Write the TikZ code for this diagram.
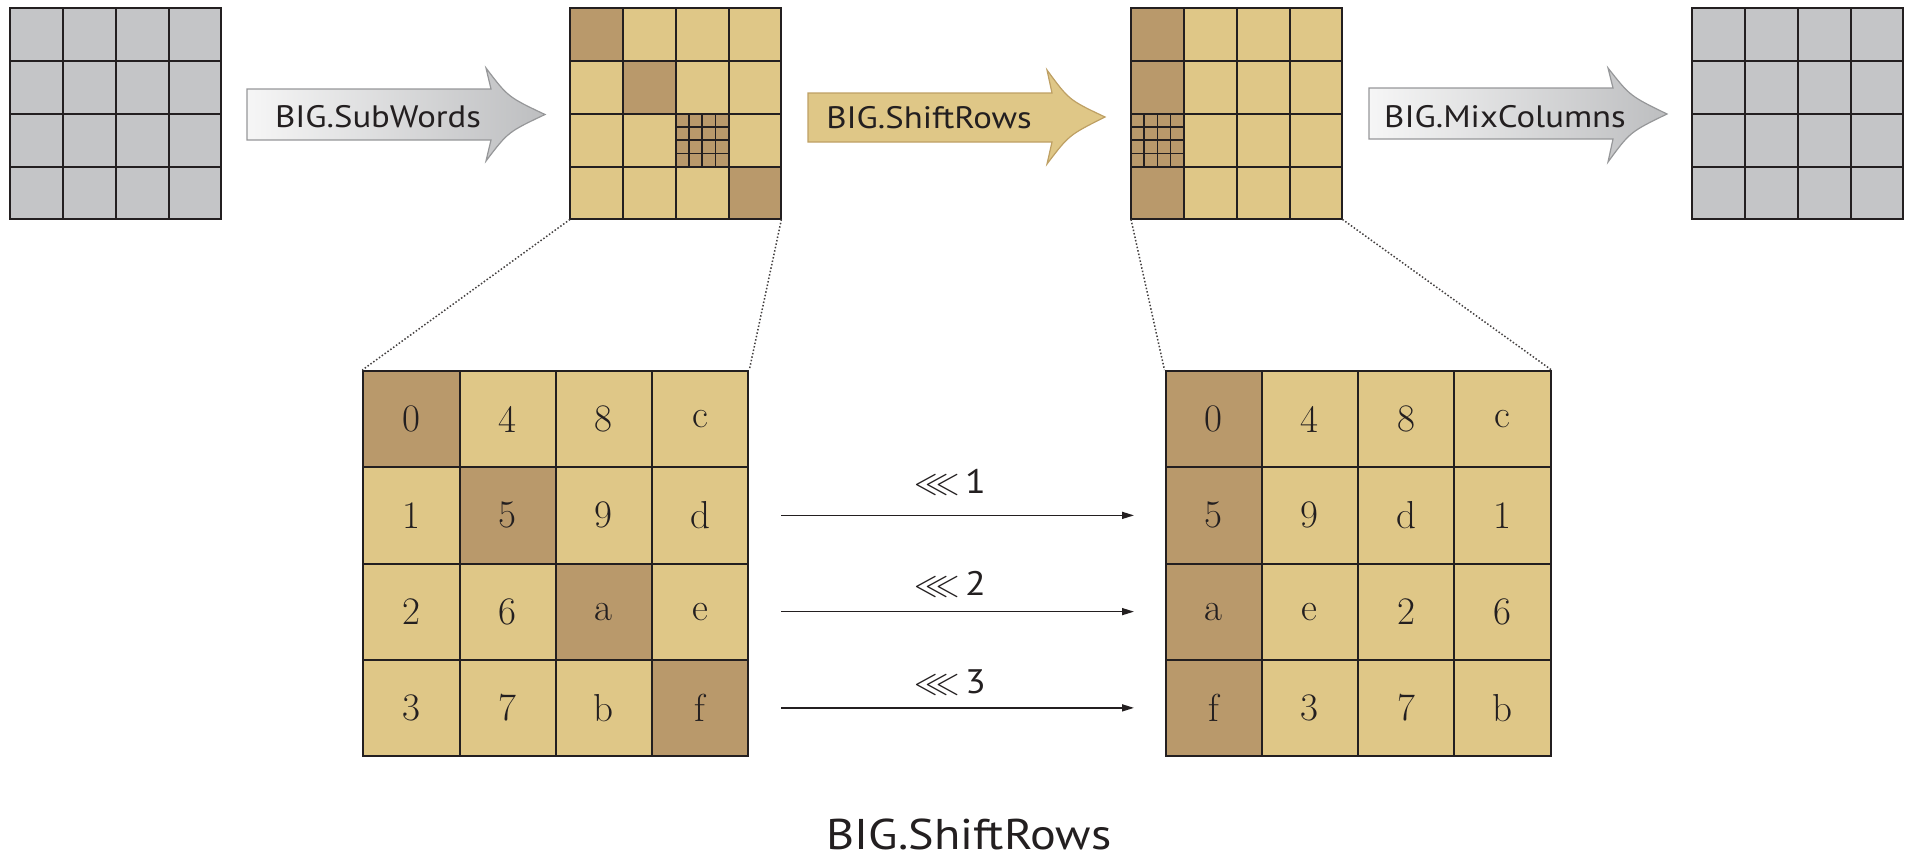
\documentclass[tikz,border=0pt]{standalone}
\usepackage{fontspec}
\usepackage{amssymb}
\setsansfont{PT Sans}[FakeStretch=1.12]
\usetikzlibrary{arrows.meta}

\definecolor{cellgrey}{RGB}{196,197,199}
\definecolor{tanlight}{RGB}{223,199,135}
\definecolor{tandark}{RGB}{185,153,107}
\definecolor{tanedge}{RGB}{190,160,100}
\definecolor{arrowgrey}{RGB}{189,190,192}
\definecolor{gradlight}{RGB}{246,246,246}
\definecolor{arrowedge}{RGB}{150,151,153}
\definecolor{ink}{RGB}{35,31,32}

\tikzset{
  gridline/.style={line width=2pt, draw=ink, line cap=rect},
  subline/.style={line width=1.5pt, draw=ink},
  bigcell/.style={draw=ink, line width=2pt, minimum width=96.25pt,
    minimum height=96.25pt, inner sep=0pt, text=ink,
    font=\fontsize{39}{39}\selectfont},
  zoomline/.style={dotted, line width=1.5pt, draw=ink!85},
  shiftarrow/.style={line width=1.5pt, draw=ink,
    -{Triangle[length=12pt,width=7pt]}},
  blocklabel/.style={anchor=base, text=ink, inner sep=0pt,
    font=\sffamily\fontsize{31}{31}\selectfont},
  rotlabel/.style={anchor=base, text=ink, inner sep=0pt,
    font=\sffamily\fontsize{34}{34}\selectfont},
}

% side of one cell of the small 4x4 states
\def\tc{52.85}

% grid lines of a small 4x4 state whose left edge is at #1
\newcommand{\stategridlines}[1]{%
  \foreach \k in {0,...,4}{
    \draw[gridline] ({#1+\k*\tc},8) -- ({#1+\k*\tc},{8+4*\tc});
    \draw[gridline] (#1,{8+\k*\tc}) -- ({#1+4*\tc},{8+\k*\tc});
  }}

% 4x4 byte grid inside cell (#2,#3) of the state at #1
\newcommand{\bytegrid}[3]{%
  \fill[tandark] ({#1+#3*\tc},{8+#2*\tc}) rectangle ++(\tc,\tc);
  \foreach \k in {1,2,3}{
    \draw[subline] ({#1+#3*\tc+\k*\tc/4},{8+#2*\tc}) -- ++(0,\tc);
    \draw[subline] ({#1+#3*\tc},{8+#2*\tc+\k*\tc/4}) -- ++(\tc,0);
  }}

\begin{document}
\begin{tikzpicture}[x=1pt,y=-1pt]
\useasboundingbox (0,0) rectangle (1911,860);

% ---------- top row: the four states ----------
% input state
\fill[cellgrey] (10,8) rectangle ++({4*\tc},{4*\tc});
\stategridlines{10}

% state after SubWords: diagonal highlighted
\fill[tanlight] (570,8) rectangle ++({4*\tc},{4*\tc});
\foreach \d in {0,1,3}{
  \fill[tandark] ({570+\d*\tc},{8+\d*\tc}) rectangle ++(\tc,\tc);
}
\bytegrid{570}{2}{2}
\stategridlines{570}

% state after ShiftRows: first column highlighted
\fill[tanlight] (1131,8) rectangle ++({4*\tc},{4*\tc});
\fill[tandark] (1131,8) rectangle ++(\tc,{4*\tc});
\bytegrid{1131}{2}{0}
\stategridlines{1131}

% output state
\fill[cellgrey] (1692,8) rectangle ++({4*\tc},{4*\tc});
\stategridlines{1692}

\coordinate (s2-bl) at (570,{8+4*\tc});
\coordinate (s2-br) at ({570+4*\tc},{8+4*\tc});
\coordinate (s3-bl) at (1131,{8+4*\tc});
\coordinate (s3-br) at ({1131+4*\tc},{8+4*\tc});

% ---------- block arrows ----------
\shade[left color=gradlight, right color=arrowgrey, draw=arrowedge, line width=1.2pt]
  (247,89) -- (491,89) -- (486,68)
  .. controls (508,97) .. (545,114.5)
  .. controls (508,132) .. (486,161) -- (491,140) -- (247,140) -- cycle;
\node[blocklabel] (subwords) at (378,127) {BIG.SubWords};

\filldraw[fill=tanlight, draw=tanedge, line width=1.2pt]
  (808,93) -- (1052,93) -- (1047,70)
  .. controls (1069,100) .. (1105,117)
  .. controls (1069,135) .. (1047,164) -- (1052,142) -- (808,142) -- cycle;
\node[blocklabel] (shiftrows) at (929,128) {BIG.ShiftRows};

\shade[left color=gradlight, right color=arrowgrey, draw=arrowedge, line width=1.2pt]
  (1369,88) -- (1613,88) -- (1608,68)
  .. controls (1630,96) .. (1667,114)
  .. controls (1630,132) .. (1608,162) -- (1613,139) -- (1369,139) -- cycle;
\node[blocklabel] (mixcolumns) at (1505,127) {BIG.MixColumns};

% ---------- enlarged states ----------
\foreach \r/\c/\t in {0/0/0,0/1/4,0/2/8,0/3/c,
                      1/0/1,1/1/5,1/2/9,1/3/d,
                      2/0/2,2/1/6,2/2/a,2/3/e,
                      3/0/3,3/1/7,3/2/b,3/3/f}{
  \ifnum\r=\c \def\cf{tandark}\else\def\cf{tanlight}\fi
  \node[bigcell, fill=\cf] (L-\r-\c) at ({363.3+(\c+0.5)*96.25},{371+(\r+0.5)*96.25}) {\t};
}
\foreach \r/\c/\t in {0/0/0,0/1/4,0/2/8,0/3/c,
                      1/0/5,1/1/9,1/2/d,1/3/1,
                      2/0/a,2/1/e,2/2/2,2/3/6,
                      3/0/f,3/1/3,3/2/7,3/3/b}{
  \ifnum\c=0 \def\cf{tandark}\else\def\cf{tanlight}\fi
  \node[bigcell, fill=\cf] (R-\r-\c) at ({1165.5+(\c+0.5)*96.25},{371+(\r+0.5)*96.25}) {\t};
}

% zoom guides
\draw[zoomline] (s2-bl) -- (L-0-0.north west);
\draw[zoomline] (s2-br) -- (L-0-3.north east);
\draw[zoomline] (s3-bl) -- (R-0-0.north west);
\draw[zoomline] (s3-br) -- (R-0-3.north east);

% row rotations
\draw[shiftarrow, shorten <=31.7pt, shorten >=30.5pt] (L-1-3.east) -- (R-1-0.west)
  node[rotlabel, midway, xshift=-7pt, yshift=21.4pt] (rot1) {$\lll$\,1};
\draw[shiftarrow, shorten <=31.7pt, shorten >=30.5pt] (L-2-3.east) -- (R-2-0.west)
  node[rotlabel, midway, xshift=-7pt, yshift=16.6pt] (rot2) {$\lll$\,2};
\draw[shiftarrow, shorten <=31.7pt, shorten >=30.5pt] (L-3-3.east) -- (R-3-0.west)
  node[rotlabel, midway, xshift=-7pt, yshift=14.6pt] (rot3) {$\lll$\,3};

% caption
\node[anchor=base, text=ink, inner sep=0pt, font=\sffamily\fontsize{43}{43}\selectfont]
  (title) at (969,849) {BIG.ShiftRows};
\end{tikzpicture}
\end{document}
